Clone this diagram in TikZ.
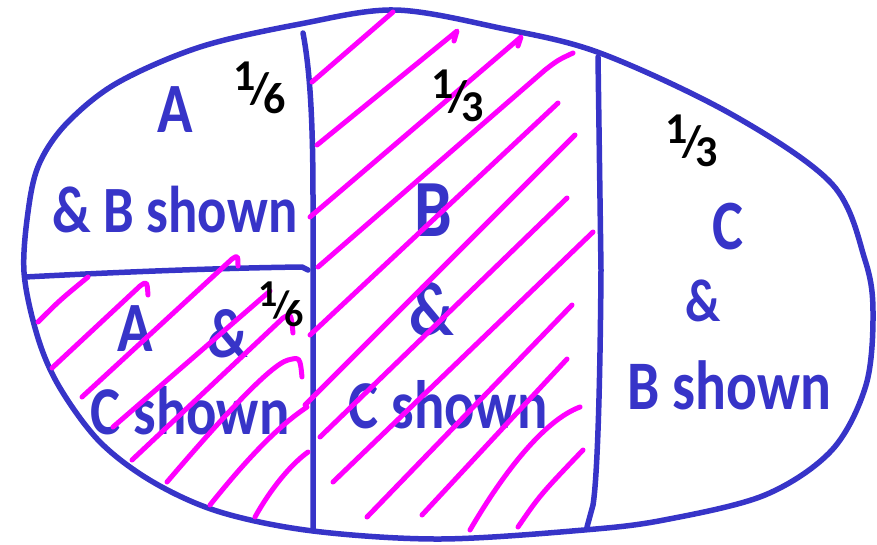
\documentclass[tikz,border=0pt]{standalone}
\usepackage{fontspec}
\setmainfont{Carlito}
\usepackage{graphicx}
\definecolor{pen}{HTML}{3734C8}
\definecolor{hatch}{HTML}{FF00FF}
\newcommand\tallt[1]{\scalebox{0.96}[1.16]{#1}}
\newcommand\hfrac[2]{\raisebox{0.3em}{#1}\kern-0.12em/\kern-0.14em\raisebox{-0.22em}{#2}}
\tikzset{
  outline/.style={draw=pen, line width=5.5pt, line cap=round, line join=round},
  hatchline/.style={draw=hatch, line width=5pt, line cap=round, line join=round},
  lbl/.style={text=pen, inner sep=0pt, font=\bfseries\fontsize{#1}{#1}\selectfont},
  fracl/.style={text=black, inner sep=0pt, font=\bfseries\fontsize{44}{44}\selectfont},
}
\begin{document}
\begin{tikzpicture}[x=1pt,y=-1pt]
\useasboundingbox (0,0) rectangle (877,544);
% egg outline
\draw[outline] plot[smooth cycle, tension=0.55] coordinates {(24,272) (29,205) (40,162) (67,123) (117,83) (200,47) (300,24) (395,10) (500,28) (600,53) (731,114) (832,184) (865,260) (873,312) (866,385) (832,450) (765,495) (664,520) (584,530) (440,539) (313,531) (220,512) (153,482) (100,442) (60,388) (38,338)};
% dividing lines
\draw[outline] (25,277) .. controls (120,272) and (220,268) .. (302,267) -- (308,270);
\draw[outline] (303,33) .. controls (310,70) and (313,120) .. (313,200) -- (313,529);
\draw[outline] (598,57) -- (601,270) .. controls (600,400) and (597,480) .. (593,505) -- (587,527);
% labels
\node[lbl=61] (a1) at (175,110) {\tallt{A}};
\node[lbl=57] (ab) at (175,210) {\tallt{\& B shown}};
\node[lbl=70] (b2) at (433,210) {\tallt{B}};
\node[lbl=66] (and2) at (432,309) {\tallt{\&}};
\node[lbl=59] (cs2) at (448,405) {\tallt{C shown}};
\node[lbl=61] (c3) at (728,227) {\tallt{C}};
\node[lbl=52] (and3) at (703,301) {\tallt{\&}};
\node[lbl=60] (bs3) at (729,385) {\tallt{B shown}};
\node[lbl=61] (a4) at (135,329) {\tallt{A}};
\node[lbl=60] (and4) at (228,334) {\tallt{\&}};
\node[lbl=59] (cs4) at (190,411) {\tallt{C shown}};
% hatching, middle strip
\draw[hatchline] (312,82) -- (393,12);
\draw[hatchline] (317,145) -- (457,31) -- (454,41);
\draw[hatchline] (310,217) -- (521,37) -- (518,46);
\draw[hatchline] (318,267) -- (545,70) .. controls (558,60) .. (573,53);
\draw[hatchline] (310,335) -- (558,103);
\draw[hatchline] (305,405) -- (575,135);
\draw[hatchline] (320,437) -- (567,198);
\draw[hatchline] (333,482) -- (593,232);
\draw[hatchline] (367,517) -- (572,305);
\draw[hatchline] (422,515) -- (567,359);
\draw[hatchline] (470,530) .. controls (505,470) and (545,420) .. (580,407);
\draw[hatchline] (518,527) .. controls (540,495) .. (583,450);
% hatching, lower left
\draw[hatchline] (38,322) .. controls (60,300) .. (88,277);
\draw[hatchline] (52,368) -- (140,286) .. controls (147,281) .. (148,295);
\draw[hatchline] (82,397) -- (232,259) .. controls (238,255) .. (238,266);
\draw[hatchline] (113,427) -- (270,291);
\draw[hatchline] (132,460) -- (283,318) .. controls (291,313) .. (293,333);
\draw[hatchline] (167,482) .. controls (220,420) and (270,365) .. (288,360) .. controls (300,357) .. (302,377);
\draw[hatchline] (210,505) .. controls (250,455) and (280,425) .. (307,407);
\draw[hatchline] (255,517) .. controls (270,490) and (290,465) .. (308,452);
% fractions
\node[fracl] (f1) at (260,88) {\hfrac{1}{6}};
\node[fracl] (f2) at (458,96) {\hfrac{1}{3}};
\node[fracl] (f3) at (692,141) {\hfrac{1}{3}};
\node[fracl, font=\bfseries\fontsize{38}{38}\selectfont] (f4) at (281,304) {\hfrac{1}{6}};
\end{tikzpicture}
\end{document}
